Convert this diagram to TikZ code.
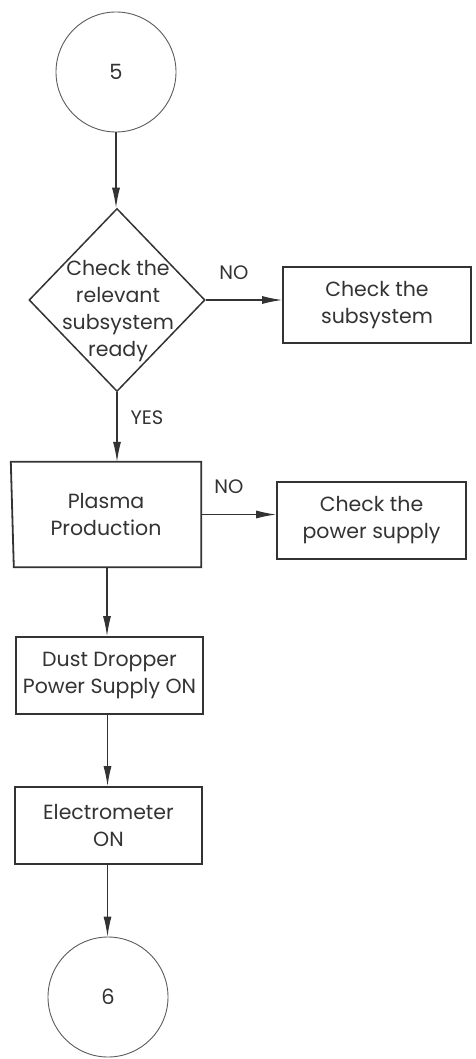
\documentclass[tikz,border=0pt]{standalone}
\usepackage{fontspec}
\setmainfont{Poppins}
\usetikzlibrary{shapes.geometric,arrows.meta}
\definecolor{ink}{HTML}{333333}
\tikzset{
  boxstyle/.style={draw=ink, line width=1.8pt, align=center, text=ink, font=\fontsize{20.5}{27}\selectfont, inner sep=0pt},
  termstyle/.style={draw=ink!80, line width=0.9pt, circle, minimum size=120pt, inner sep=0pt, text=ink, font=\fontsize{21}{24}\selectfont},
  txt/.style={align=center, text=ink, font=\fontsize{20.5}{27}\selectfont, inner sep=0pt},
  arr/.style={draw=ink, line width=1.1pt, -{Latex[length=20pt,width=8pt]}},
  lbl/.style={text=ink, font=\fontsize{19.5}{22}\selectfont, inner sep=0pt}
}
\begin{document}
\begin{tikzpicture}[x=1pt,y=-1pt]
\useasboundingbox (0,0) rectangle (475,1059);
\node[termstyle] (c5) at (116,72) {5};
\node[draw=ink, line width=1.5pt, diamond, minimum width=176pt, minimum height=183pt, inner sep=0pt] (d) at (117,300) {};
\node[txt] (dt) at (118,311) {Check the\\relevant\\subsystem\\ready};
\node[boxstyle, minimum width=188pt, minimum height=76pt] (cs) at (377,305) {Check the\\subsystem};
\node[txt, minimum width=190pt, minimum height=105pt] (pp) at (106,514.5) {Plasma\\Production};
\draw[draw=ink, line width=1.8pt] (pp.north west) -- (pp.north east) -- (pp.south east) -- ([xshift=3pt]pp.south west) -- cycle;
\node[boxstyle, minimum width=189pt, minimum height=77pt] (cps) at (371.5,520.5) {Check the\\power supply};
\node[boxstyle, minimum width=187pt, minimum height=77pt] (dd) at (109.5,675.5) {Dust Dropper\\Power Supply ON};
\node[boxstyle, minimum width=187pt, minimum height=77pt] (em) at (108.5,825.5) {Electrometer\\ON};
\node[termstyle] (c6) at (108,997) {6};
\node[lbl] (no1) at (234,273) {NO};
\node[lbl] (no2) at (229,487) {NO};
\node[lbl] (yes) at (147,418) {YES};
\draw[arr] (c5.south) -- (c5.south |- d.north);
\draw[arr] (d.east) -- (d.east -| cs.west);
\draw[arr] (d.south) -- (d.south |- pp.north);
\draw[arr] (pp.east) -- (pp.east -| cps.west);
\draw[arr] ([xshift=1pt]pp.south) -- ([xshift=1pt]pp.south |- dd.north);
\draw[arr] ([xshift=-2pt]dd.south) -- ([xshift=-2pt]dd.south |- em.north);
\draw[arr] ([xshift=-1pt]em.south) -- ([xshift=-1pt]em.south |- c6.north);
\end{tikzpicture}
\end{document}
